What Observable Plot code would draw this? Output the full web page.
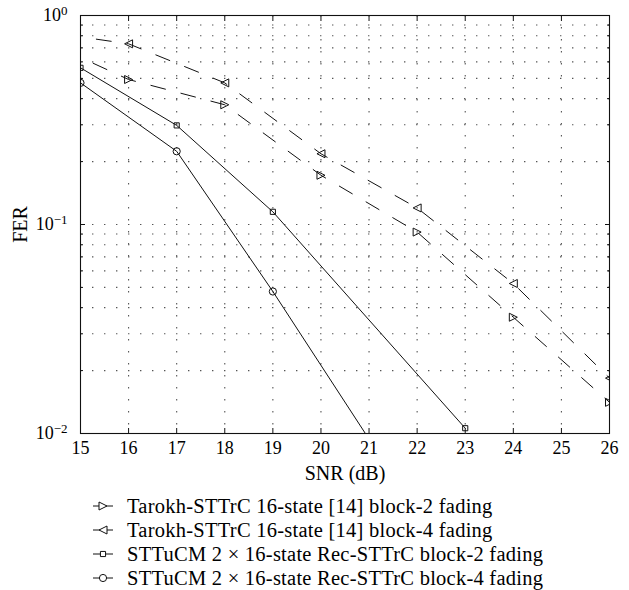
<!DOCTYPE html>
<html>
<head>
<meta charset="utf-8">
<script src="https://cdn.jsdelivr.net/npm/d3@7"></script>
<script src="https://cdn.jsdelivr.net/npm/@observablehq/plot@0.6"></script>
<style>
  body { margin: 0; background: #fff; font-family: "Liberation Serif", serif; }
  #chart svg, #legend svg { display: block; }
</style>
</head>
<body>
<div id="chart"></div>
<div id="legend"></div>
<script>
// ---- data ----
const snrTarokh = [15, 16, 18, 20, 22, 24, 26];
const ferTarokhBlock2 = [0.63, 0.494, 0.374, 0.172, 0.092, 0.036, 0.0141];
const ferTarokhBlock4 = [0.79, 0.732, 0.476, 0.218, 0.120, 0.0522, 0.0184];
const markedTarokh = [false, true, true, true, true, true, true];
const snrRecBlock2 = [15, 17, 19, 23];
const ferRecBlock2 = [0.562, 0.298, 0.115, 0.0106];
const snrRecBlock4 = [15, 17, 19, 21];
const ferRecBlock4 = [0.476, 0.224, 0.0478, 0.0094];
const markedRec = [true, true, true, true];

const xTicks = [15, 16, 17, 18, 19, 20, 21, 22, 23, 24, 25, 26];
const yMajorTicks = [0.01, 0.1, 1];
const yMinorTicks = [0.02, 0.03, 0.04, 0.05, 0.06, 0.07, 0.08, 0.09, 0.2, 0.3, 0.4, 0.5, 0.6, 0.7, 0.8, 0.9];
const seriesLabels = [
  "Tarokh-STTrC 16-state [14] block-2 fading",
  "Tarokh-STTrC 16-state [14] block-4 fading",
  "STTuCM 2 \u00d7 16-state Rec-STTrC block-2 fading",
  "STTuCM 2 \u00d7 16-state Rec-STTrC block-4 fading"
];
const xLabel = "SNR (dB)";
const yLabel = "FER";

// ---- symbols ----
const triRight = {draw(ctx, size) { const r = Math.sqrt(size / Math.PI); ctx.moveTo(r, 0); ctx.lineTo(-r, -r); ctx.lineTo(-r, r); ctx.closePath(); }};
const triLeft = {draw(ctx, size) { const r = Math.sqrt(size / Math.PI); ctx.moveTo(-r, 0); ctx.lineTo(r, -r); ctx.lineTo(r, r); ctx.closePath(); }};

const series = [
  {name: seriesLabels[0], x: snrTarokh, y: ferTarokhBlock2, marked: markedTarokh, dash: "15,16", offset: 17, symbol: triRight, r: 4},
  {name: seriesLabels[1], x: snrTarokh, y: ferTarokhBlock4, marked: markedTarokh, dash: "15,16", offset: 15, symbol: triLeft, r: 4},
  {name: seriesLabels[2], x: snrRecBlock2, y: ferRecBlock2, marked: markedRec, dash: null, offset: 0, symbol: "square", r: 2.9},
  {name: seriesLabels[3], x: snrRecBlock4, y: ferRecBlock4, marked: markedRec, dash: null, offset: 0, symbol: "circle", r: 3.6}
];
const rows = series.map(s => s.x.map((x, i) => ({x, y: s.y[i], marked: s.marked[i]})));

const ink = "#111";
const gridStyle = {stroke: "#555", strokeWidth: 1.1, strokeDasharray: "1.4,10.6"};

const marks = [
  Plot.ruleX(xTicks.slice(1, -1), {x: d => d, ...gridStyle}),
  Plot.ruleY(yMinorTicks.concat([0.1]), {y: d => d, ...gridStyle}),
  Plot.frame({stroke: ink, strokeWidth: 1.1}),
  Plot.axisX(xTicks, {anchor: "bottom", tickSize: -5, tickPadding: 13, label: null, fontSize: 18, stroke: ink}),
  Plot.axisX(xTicks, {anchor: "top", tickSize: -5, text: null, tickFormat: () => "", label: null, stroke: ink}),
  Plot.axisY(yMajorTicks, {anchor: "left", tickSize: -5, tickPadding: 18, label: null, fontSize: 18, stroke: ink,
    tickFormat: d => "10^" + Math.round(Math.log10(d))}),
  Plot.axisY(yMinorTicks, {anchor: "left", tickSize: -3, text: null, tickFormat: () => "", label: null, stroke: ink}),
  Plot.axisY(yMajorTicks, {anchor: "right", tickSize: -5, text: null, tickFormat: () => "", label: null, stroke: ink}),
  Plot.axisY(yMinorTicks, {anchor: "right", tickSize: -3, text: null, tickFormat: () => "", label: null, stroke: ink}),
  Plot.text([xLabel], {frameAnchor: "bottom", dy: 40, lineAnchor: "middle", textAnchor: "middle", fontSize: 20, text: d => d}),
  Plot.text([yLabel], {frameAnchor: "left", dx: -60, rotate: -90, lineAnchor: "middle", textAnchor: "middle", fontSize: 20, text: d => d})
];
series.forEach((s, k) => {
  marks.push(Plot.line(rows[k], {x: "x", y: "y", stroke: ink, strokeWidth: 1, strokeDasharray: s.dash, strokeDashoffset: s.offset, clip: true}));
  marks.push(Plot.dot(rows[k].filter(d => d.marked), {x: "x", y: "y", symbol: s.symbol, r: s.r, stroke: ink, strokeWidth: 1, fill: "none", clip: true}));
});

const chart = Plot.plot({
  width: 629,
  height: 490,
  marginLeft: 80,
  marginRight: 20,
  marginTop: 15,
  marginBottom: 57,
  style: {fontFamily: "'Liberation Serif', serif", fontSize: "18px", background: "white", color: "black"},
  x: {domain: [15, 26]},
  y: {type: "log", domain: [0.01, 1]},
  marks
});
document.getElementById("chart").appendChild(chart);

// superscript exponents on the y tick labels
d3.select(chart).selectAll('g[aria-label="y-axis tick label"] text').each(function() {
  const t = d3.select(this);
  const s = t.text();
  if (!s.startsWith("10^")) return;
  const e = s.slice(3).replace("-", "\u2212");
  t.text(null);
  t.append("tspan").text("10");
  t.append("tspan").attr("dy", "-0.5em").attr("font-size", "13px").text(e);
});

// ---- legend ----
const legendRowsY = [16, 40, 64, 88];
const lg = d3.select("#legend").append("svg").attr("width", 629).attr("height", 100);
series.forEach((s, k) => {
  const g = lg.append("g").attr("transform", `translate(0,${legendRowsY[k]})`);
  g.append("line").attr("x1", 93).attr("x2", 113).attr("y1", 0).attr("y2", 0).attr("stroke", ink).attr("stroke-width", 1);
  const sym = typeof s.symbol === "string" ? (s.symbol === "square" ? d3.symbolSquare : d3.symbolCircle) : s.symbol;
  g.append("path").attr("transform", "translate(103,0)")
    .attr("d", d3.symbol(sym, Math.PI * s.r * s.r)())
    .attr("fill", "white").attr("stroke", ink).attr("stroke-width", 1);
  g.append("text").attr("x", 127).attr("y", 0).attr("dy", "0.35em")
    .attr("font-family", "'Liberation Serif', serif").attr("font-size", 20.5).attr("letter-spacing", "0.25px").attr("fill", "black")
    .text(s.name);
});
</script>
</body>
</html>
